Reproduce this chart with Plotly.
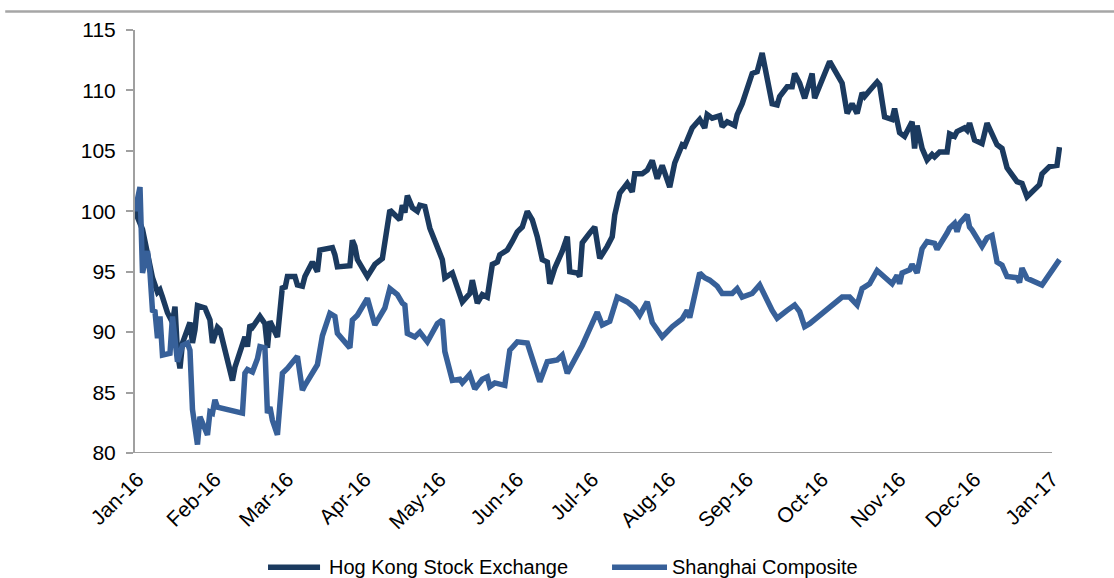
import plotly.graph_objects as go

# Hong Kong Stock Exchange index, rebased to 100
hk_dates = [
    "2015-12-31", "2016-01-03", "2016-01-05", "2016-01-07", "2016-01-09", "2016-01-10",
    "2016-01-11", "2016-01-13", "2016-01-15", "2016-01-16", "2016-01-17", "2016-01-18",
    "2016-01-19", "2016-01-22", "2016-01-23", "2016-01-24", "2016-01-25", "2016-01-28",
    "2016-01-30", "2016-01-31", "2016-02-02", "2016-02-03", "2016-02-08", "2016-02-09",
    "2016-02-13", "2016-02-14", "2016-02-15", "2016-02-16", "2016-02-19", "2016-02-21",
    "2016-02-22", "2016-02-23", "2016-02-26", "2016-02-28", "2016-02-29", "2016-03-01",
    "2016-03-04", "2016-03-05", "2016-03-07", "2016-03-08", "2016-03-11", "2016-03-13",
    "2016-03-14", "2016-03-16", "2016-03-19", "2016-03-20", "2016-03-21", "2016-03-26",
    "2016-03-27", "2016-03-28", "2016-03-29", "2016-04-02", "2016-04-05", "2016-04-08",
    "2016-04-10", "2016-04-11", "2016-04-15", "2016-04-16", "2016-04-17", "2016-04-18",
    "2016-04-20", "2016-04-22", "2016-04-23", "2016-04-25", "2016-04-27", "2016-04-30",
    "2016-05-02", "2016-05-03", "2016-05-06", "2016-05-10", "2016-05-13", "2016-05-14",
    "2016-05-16", "2016-05-18", "2016-05-20", "2016-05-22", "2016-05-24", "2016-05-25",
    "2016-05-28", "2016-05-30", "2016-06-01", "2016-06-03", "2016-06-05", "2016-06-07",
    "2016-06-09", "2016-06-11", "2016-06-13", "2016-06-14", "2016-06-16", "2016-06-19",
    "2016-06-21", "2016-06-22", "2016-06-25", "2016-06-26", "2016-06-27", "2016-06-30",
    "2016-07-02", "2016-07-04", "2016-07-06", "2016-07-07", "2016-07-09", "2016-07-10",
    "2016-07-12", "2016-07-14", "2016-07-15", "2016-07-17", "2016-07-18", "2016-07-21",
    "2016-07-23", "2016-07-25", "2016-07-27", "2016-07-29", "2016-08-01", "2016-08-03",
    "2016-08-06", "2016-08-07", "2016-08-10", "2016-08-13", "2016-08-15", "2016-08-16",
    "2016-08-18", "2016-08-21", "2016-08-22", "2016-08-24", "2016-08-27", "2016-08-28",
    "2016-08-30", "2016-09-03", "2016-09-05", "2016-09-07", "2016-09-10", "2016-09-11",
    "2016-09-13", "2016-09-14", "2016-09-17", "2016-09-19", "2016-09-20", "2016-09-22",
    "2016-09-24", "2016-09-27", "2016-09-28", "2016-10-04", "2016-10-09", "2016-10-11",
    "2016-10-13", "2016-10-15", "2016-10-17", "2016-10-18", "2016-10-20", "2016-10-23",
    "2016-10-24", "2016-10-26", "2016-10-29", "2016-10-30", "2016-11-01", "2016-11-03",
    "2016-11-06", "2016-11-07", "2016-11-08", "2016-11-10", "2016-11-12", "2016-11-14",
    "2016-11-15", "2016-11-17", "2016-11-20", "2016-11-21", "2016-11-23", "2016-11-24",
    "2016-11-27", "2016-11-28", "2016-11-29", "2016-12-01", "2016-12-04", "2016-12-06",
    "2016-12-10", "2016-12-12", "2016-12-14", "2016-12-18", "2016-12-20", "2016-12-22",
    "2016-12-27", "2016-12-28", "2016-12-31", "2017-01-03", "2017-01-04",
]
hk_values = [
    100.0, 98.5, 96.5, 94.5, 93.3, 93.5,
    92.9, 91.6, 90.8, 92.1, 88.3, 87.0,
    89.1, 90.8, 89.1, 90.2, 92.2, 92.0,
    91.0, 89.1, 90.4, 90.2, 86.0, 87.1,
    89.6, 88.8, 90.6, 90.4, 91.3, 90.7,
    88.7, 90.9, 89.6, 93.8, 93.6, 94.6,
    94.6, 93.9, 93.8, 94.6, 95.8, 95.0,
    96.8, 96.9, 97.0, 96.4, 95.4, 95.5,
    97.6, 97.1, 96.0, 94.6, 95.6, 96.1,
    99.0, 100.1, 99.3, 100.5, 99.9, 101.3,
    100.3, 100.0, 100.5, 100.4, 98.6, 97.1,
    96.0, 94.5, 94.9, 92.5, 93.2, 94.3,
    92.4, 93.1, 92.9, 95.6, 95.8, 96.4,
    96.8, 97.5, 98.3, 98.7, 100.0, 99.3,
    97.9, 96.0, 95.8, 94.0, 95.3, 96.7,
    97.9, 95.0, 94.9, 94.6, 97.4, 98.2,
    98.7, 96.1, 96.7, 97.1, 97.9, 99.7,
    101.5, 102.0, 102.3, 101.6, 103.1, 103.1,
    103.4, 104.2, 102.7, 103.8, 102.0, 104.0,
    105.5, 105.4, 106.9, 107.6, 106.9, 108.0,
    107.7, 107.9, 107.0, 107.4, 107.1, 108.0,
    108.9, 111.4, 111.55, 113.1, 109.6, 108.9,
    108.8, 109.5, 110.3, 110.3, 111.4, 110.6,
    109.35, 111.4, 109.35, 112.4, 110.6, 108.1,
    108.9, 108.1, 109.8, 109.5, 110.0, 110.7,
    110.45, 107.8, 107.6, 108.5, 106.5, 106.2,
    107.4, 105.2, 107.1, 105.2, 104.25, 104.7,
    104.5, 104.9, 104.9, 106.4, 106.2, 106.6,
    106.9, 106.7, 107.3, 105.9, 105.6, 107.3,
    105.5, 105.2, 103.6, 102.45, 102.3, 101.2,
    102.2, 103.1, 103.7, 103.8, 105.3,
]

# Shanghai Composite index, rebased to 100
sh_dates = [
    "2015-12-31", "2016-01-02", "2016-01-03", "2016-01-05", "2016-01-06", "2016-01-07",
    "2016-01-08", "2016-01-09", "2016-01-10", "2016-01-11", "2016-01-14", "2016-01-15",
    "2016-01-16", "2016-01-17", "2016-01-19", "2016-01-21", "2016-01-22", "2016-01-23",
    "2016-01-25", "2016-01-26", "2016-01-29", "2016-01-30", "2016-01-31", "2016-02-01",
    "2016-02-02", "2016-02-12", "2016-02-13", "2016-02-14", "2016-02-16", "2016-02-18",
    "2016-02-19", "2016-02-21", "2016-02-22", "2016-02-23", "2016-02-24", "2016-02-26",
    "2016-02-28", "2016-03-01", "2016-03-05", "2016-03-07", "2016-03-08", "2016-03-11",
    "2016-03-13", "2016-03-15", "2016-03-18", "2016-03-20", "2016-03-21", "2016-03-26",
    "2016-03-27", "2016-03-29", "2016-04-02", "2016-04-05", "2016-04-08", "2016-04-09",
    "2016-04-11", "2016-04-14", "2016-04-16", "2016-04-17", "2016-04-18", "2016-04-21",
    "2016-04-23", "2016-04-26", "2016-04-30", "2016-05-02", "2016-05-03", "2016-05-06",
    "2016-05-09", "2016-05-10", "2016-05-13", "2016-05-15", "2016-05-18", "2016-05-20",
    "2016-05-21", "2016-05-23", "2016-05-27", "2016-05-29", "2016-06-01", "2016-06-05",
    "2016-06-10", "2016-06-13", "2016-06-17", "2016-06-19", "2016-06-21", "2016-06-27",
    "2016-07-03", "2016-07-05", "2016-07-08", "2016-07-11", "2016-07-15", "2016-07-18",
    "2016-07-20", "2016-07-23", "2016-07-25", "2016-07-29", "2016-08-02", "2016-08-06",
    "2016-08-08", "2016-08-09", "2016-08-13", "2016-08-15", "2016-08-17", "2016-08-20",
    "2016-08-22", "2016-08-26", "2016-08-28", "2016-08-30", "2016-09-03", "2016-09-06",
    "2016-09-11", "2016-09-13", "2016-09-17", "2016-09-20", "2016-09-22", "2016-09-24",
    "2016-09-26", "2016-10-09", "2016-10-12", "2016-10-15", "2016-10-17", "2016-10-20",
    "2016-10-23", "2016-10-27", "2016-10-29", "2016-10-31", "2016-11-01", "2016-11-02",
    "2016-11-05", "2016-11-06", "2016-11-08", "2016-11-10", "2016-11-12", "2016-11-15",
    "2016-11-16", "2016-11-20", "2016-11-21", "2016-11-23", "2016-11-24", "2016-11-25",
    "2016-11-28", "2016-11-29", "2016-11-30", "2016-12-04", "2016-12-06", "2016-12-08",
    "2016-12-10", "2016-12-12", "2016-12-14", "2016-12-18", "2016-12-19", "2016-12-20",
    "2016-12-22", "2016-12-28", "2017-01-01", "2017-01-04",
]
sh_values = [
    100.0, 102.0, 94.9, 96.7, 94.9, 91.8,
    91.7, 89.5, 91.3, 88.1, 88.25, 91.3,
    89.4, 87.55, 88.9, 89.1, 88.5, 83.6,
    80.7, 83.0, 81.5, 83.4, 83.3, 84.4,
    83.8, 83.3, 86.6, 86.9, 86.7, 87.8,
    88.8, 88.7, 83.3, 83.8, 82.7, 81.5,
    86.6, 87.0, 88.0, 85.2, 85.6, 86.7,
    87.3, 89.7, 91.55, 91.3, 89.9, 88.7,
    91.0, 91.4, 92.8, 90.6, 91.8, 92.0,
    93.6, 93.1, 92.4, 92.25, 89.9, 89.6,
    90.0, 89.2, 90.7, 91.0, 88.4, 86.0,
    86.1, 85.8, 86.5, 85.3, 86.1, 86.3,
    85.5, 85.8, 85.6, 88.5, 89.2, 89.1,
    85.9, 87.55, 87.7, 88.1, 86.6, 88.9,
    91.65, 90.6, 90.9, 92.9, 92.5, 92.0,
    91.4, 92.5, 90.8, 89.6, 90.45, 91.1,
    91.8, 91.2, 94.9, 94.5, 94.3, 93.8,
    93.2, 93.2, 93.6, 92.9, 93.2, 93.9,
    91.8, 91.15, 91.8, 92.25, 91.7, 90.45,
    90.7, 92.9, 92.9, 92.25, 93.6, 94.0,
    95.1, 94.3, 94.0, 94.7, 94.0, 94.9,
    95.15, 95.6, 94.9, 96.9, 97.5, 97.35,
    96.85, 98.2, 98.6, 99.0, 98.3, 99.0,
    99.7, 98.7, 98.45, 97.1, 97.8, 98.0,
    95.8, 95.55, 94.6, 94.5, 94.1, 95.3,
    94.45, 93.9, 95.15, 96.0,
]

# Month ticks along the time axis
tick_dates = [
    "2016-01-01", "2016-02-01", "2016-03-01", "2016-04-01", "2016-05-01", "2016-06-01",
    "2016-07-01", "2016-08-01", "2016-09-01", "2016-10-01", "2016-11-01", "2016-12-01",
    "2017-01-01",
]
tick_labels = [
    "Jan-16", "Feb-16", "Mar-16", "Apr-16", "May-16", "Jun-16", "Jul-16",
    "Aug-16", "Sep-16", "Oct-16", "Nov-16", "Dec-16", "Jan-17",
]
y_ticks = [80, 85, 90, 95, 100, 105, 110, 115]

series_names = ["Hog Kong Stock Exchange", "Shanghai Composite"]

DARK = "#1b3a5f"
LIGHT = "#376099"
AXIS_GREY = "#a0a0a0"
FONT = "Arial, Liberation Sans, sans-serif"

fig = go.Figure()
fig.add_trace(go.Scatter(
    x=hk_dates, y=hk_values, mode="lines", name=series_names[0],
    line=dict(color=DARK, width=5.5),
))
fig.add_trace(go.Scatter(
    x=sh_dates, y=sh_values, mode="lines", name=series_names[1],
    line=dict(color=LIGHT, width=5.5),
))

# Key along the bottom edge: swatch line + label for each series
LEGEND_Y = -0.27
legend_keys = [
    (0.1435, 0.1996, 0.2071, DARK, series_names[0]),
    (0.5146, 0.5739, 0.5771, LIGHT, series_names[1]),
]
shapes = [
    # horizontal axis line spanning the calendar year
    dict(type="line", xref="x", yref="y", x0="2015-12-31", x1="2017-01-01",
         y0=80, y1=80, line=dict(color=AXIS_GREY, width=2), layer="below"),
    # rule across the top of the panel
    dict(type="line", xref="paper", yref="paper", x0=-0.14, x1=1.06,
         y0=1.044, y1=1.044, line=dict(color="#a6a6a6", width=2.5)),
]
annotations = []
for x0, x1, xt, color, label in legend_keys:
    shapes.append(dict(type="line", xref="paper", yref="paper", x0=x0, x1=x1,
                       y0=LEGEND_Y, y1=LEGEND_Y, line=dict(color=color, width=5.5)))
    annotations.append(dict(xref="paper", yref="paper", x=xt, y=LEGEND_Y,
                            xanchor="left", yanchor="middle", text=label,
                            showarrow=False, font=dict(size=20, family=FONT, color="#000000")))

fig.update_layout(
    width=1114, height=578,
    margin=dict(l=135, r=52, t=30, b=125),
    paper_bgcolor="white", plot_bgcolor="white",
    font=dict(family=FONT, size=21, color="#000000"),
    showlegend=False,
    xaxis=dict(
        type="date", range=["2015-12-31", "2017-01-05"],
        tickvals=tick_dates, ticktext=tick_labels, tickangle=-45,
        showgrid=False, zeroline=False, showline=False, ticks="",
        ticklabelstandoff=9,
        tickfont=dict(size=21, family=FONT, color="#000000"),
        automargin=False,
    ),
    yaxis=dict(
        range=[80, 115], tickvals=y_ticks, showgrid=False, zeroline=False,
        showline=True, linecolor=AXIS_GREY, linewidth=2,
        ticks="outside", ticklen=7, tickcolor=AXIS_GREY, tickwidth=2,
        ticklabelstandoff=6,
        tickfont=dict(size=21, family=FONT, color="#000000"),
        automargin=False,
    ),
    shapes=shapes,
    annotations=annotations,
)

fig.write_html("out.html")
